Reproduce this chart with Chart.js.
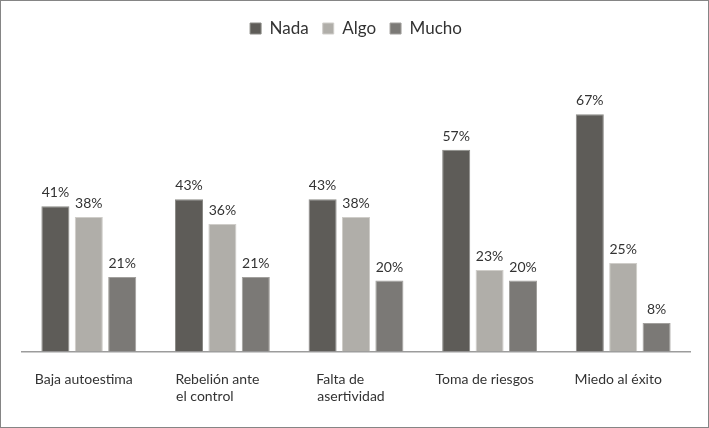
<!DOCTYPE html>
<html>
<head>
<meta charset="utf-8">
<script src="https://cdn.jsdelivr.net/npm/chart.js@4.4.1/dist/chart.umd.min.js"></script>
<style>
  html, body { margin: 0; padding: 0; background: #fff; }
  #wrap { width: 709px; height: 428px; box-sizing: border-box; border: 1px solid #858585; background: #fff; }
  #chart { display: block; }
</style>
</head>
<body>
<div id="wrap"><canvas id="chart" width="707" height="426"></canvas></div>
<script>
// categories and values (percent)
// (trailing spaces keep the two-line labels visually left aligned)
const categories = [
  'Baja autoestima',
  ['Rebelión ante', 'el control       '],
  ['Falta de      ', 'asertividad'],
  'Toma de riesgos',
  'Miedo al éxito'
];
const seriesNames = ['Nada', 'Algo', 'Mucho'];
const nada = [41, 43, 43, 57, 67];
const algo = [38, 36, 38, 23, 25];
const mucho = [21, 21, 20, 20, 8];

const fills = ['#5e5c58', '#b0aea9', '#7b7976'];
const edges = ['#8b8a86', '#cfcdc9', '#a2a09d'];

// percent labels above each bar
const valueLabels = {
  id: 'valueLabels',
  afterDatasetsDraw(chart) {
    const ctx = chart.ctx;
    ctx.save();
    ctx.font = '14px Lato';
    ctx.fillStyle = '#333';
    ctx.textAlign = 'center';
    ctx.textBaseline = 'alphabetic';
    chart.data.datasets.forEach((ds, i) => {
      chart.getDatasetMeta(i).data.forEach((bar, j) => {
        ctx.fillText(ds.data[j] + '%', bar.x, bar.y - 9);
      });
    });
    ctx.restore();
  }
};

new Chart(document.getElementById('chart'), {
  type: 'bar',
  data: {
    labels: categories,
    datasets: [nada, algo, mucho].map((d, i) => ({
      label: seriesNames[i],
      data: d,
      backgroundColor: fills[i],
      borderColor: edges[i],
      borderWidth: 1,
      categoryPercentage: 0.75,
      barPercentage: 0.84
    }))
  },
  options: {
    responsive: false,
    animation: false,
    layout: { padding: { left: 21, right: 18, top: 5, bottom: 2 } },
    plugins: {
      legend: {
        position: 'top',
        labels: {
          font: { family: 'Lato', size: 17 },
          color: '#333',
          boxWidth: 11,
          boxHeight: 11,
          padding: 14
        }
      },
      tooltip: { enabled: false }
    },
    scales: {
      x: {
        grid: { display: false, drawTicks: false },
        border: { display: true, color: '#9c9c9c', width: 1.5 },
        ticks: {
          font: { family: 'Lato', size: 14 },
          color: '#333',
          padding: 20,
          labelOffset: -5,
          maxRotation: 0
        }
      },
      y: {
        display: false,
        min: 0,
        max: 86
      }
    }
  },
  plugins: [valueLabels]
});
</script>
</body>
</html>
